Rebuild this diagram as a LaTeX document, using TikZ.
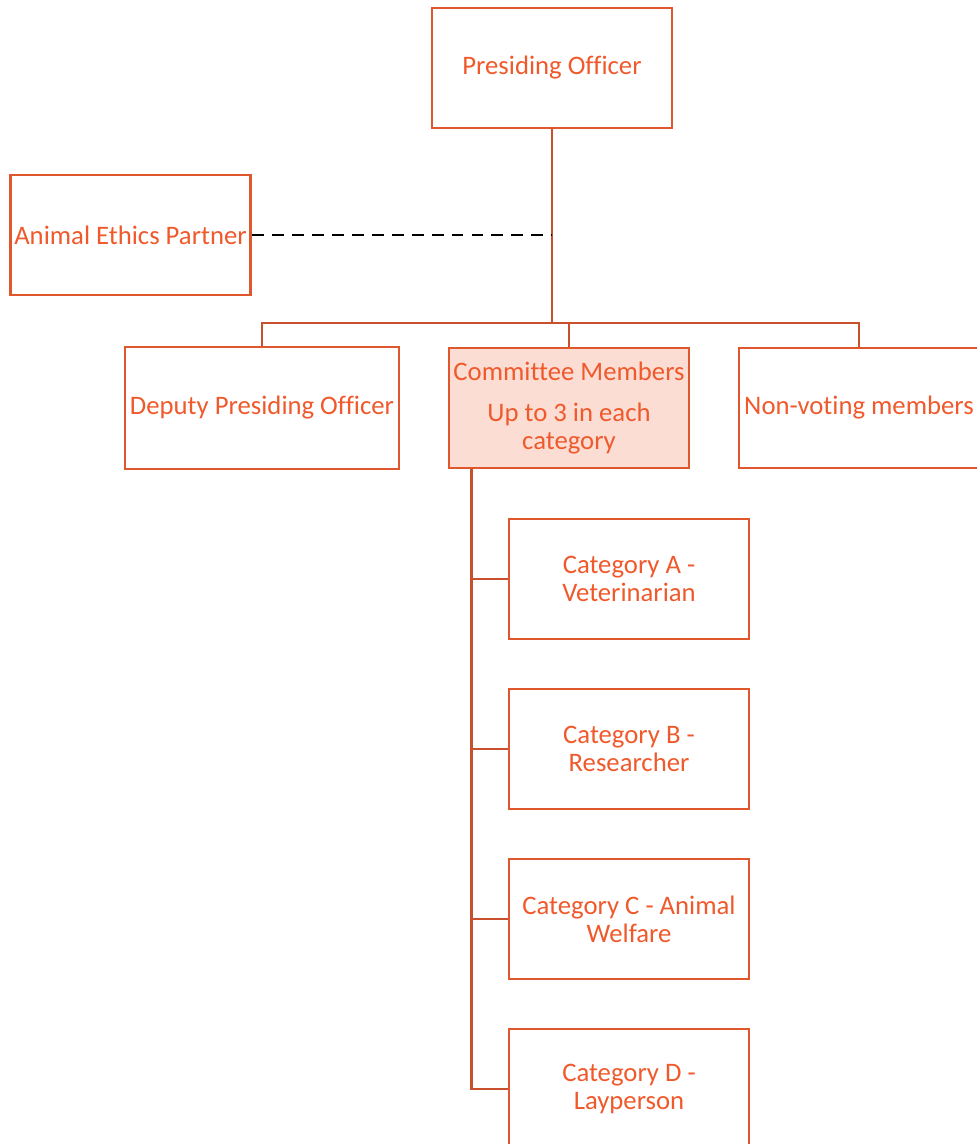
\documentclass[tikz,border=0pt]{standalone}
\usepackage{fontspec}
\setmainfont{Carlito}[Ligatures=NoCommon]
\definecolor{boxorange}{HTML}{E0562D}
\definecolor{textorange}{HTML}{F0592B}
\definecolor{lineorange}{HTML}{C9502C}
\definecolor{pinkfill}{HTML}{FBDDD4}
\tikzset{
  box/.style={draw=boxorange, line width=2pt, rectangle, minimum width=6cm, minimum height=3cm,
    inner sep=1pt, align=center, text=textorange, font=\fontsize{19}{20}\selectfont},
  link/.style={draw=lineorange, line width=1.8pt},
  dashline/.style={draw=black, line width=1.8pt, dash pattern=on 8.5pt off 5.7pt}
}
\begin{document}
\begin{tikzpicture}

    \useasboundingbox (0,0) rectangle (24.425,-28.6);
    \clip (0,0) rectangle (24.425,-28.6);

    % Nodes
    \node [box] (PO) at (13.8,-1.7) {Presiding Officer};
    \node [box] (AEP) at (3.2625,-5.875) {Animal Ethics Partner};
    \node [box, fill=pinkfill] (CM) at (14.225,-10.2) {Committee Members\\[0.325cm]Up to 3 in each\\category};
    \node [box, left of=CM, node distance=7.675cm, minimum width=6.85cm, minimum height=3.05cm] (DPO) {Deputy Presiding Officer};
    \node [box, right of=CM, node distance=7.25cm] (NVM) {Non-voting members};
    \node [box] (CatA) at (15.725,-14.475) {Category A -\\Veterinarian};
    \node [box, below of=CatA, node distance=4.25cm] (CatB) {Category B -\\Researcher};
    \node [box, below of=CatB, node distance=4.25cm] (CatC) {Category C - Animal\\Welfare};
    \node [box, below of=CatC, node distance=4.25cm] (CatD) {Category D -\\Layperson};

    \coordinate (bar) at (13.8,-8.075);
    \coordinate (trunk) at ([xshift=0.6cm]CM.south west);

    % Connectors
    \draw [link] (PO.south) -- (bar);
    \draw [link] (DPO.north) |- (bar) -| (NVM.north);
    \draw [link] (CM.north) -- (CM.north |- bar);
    \draw [dashline] (AEP.east) -- (AEP.east -| PO.south);
    \draw [link] (trunk) |- (CatD.west);
    \foreach \cat in {CatA,CatB,CatC}
        \draw [link] (trunk |- \cat.west) -- (\cat.west);

\end{tikzpicture}
\end{document}
